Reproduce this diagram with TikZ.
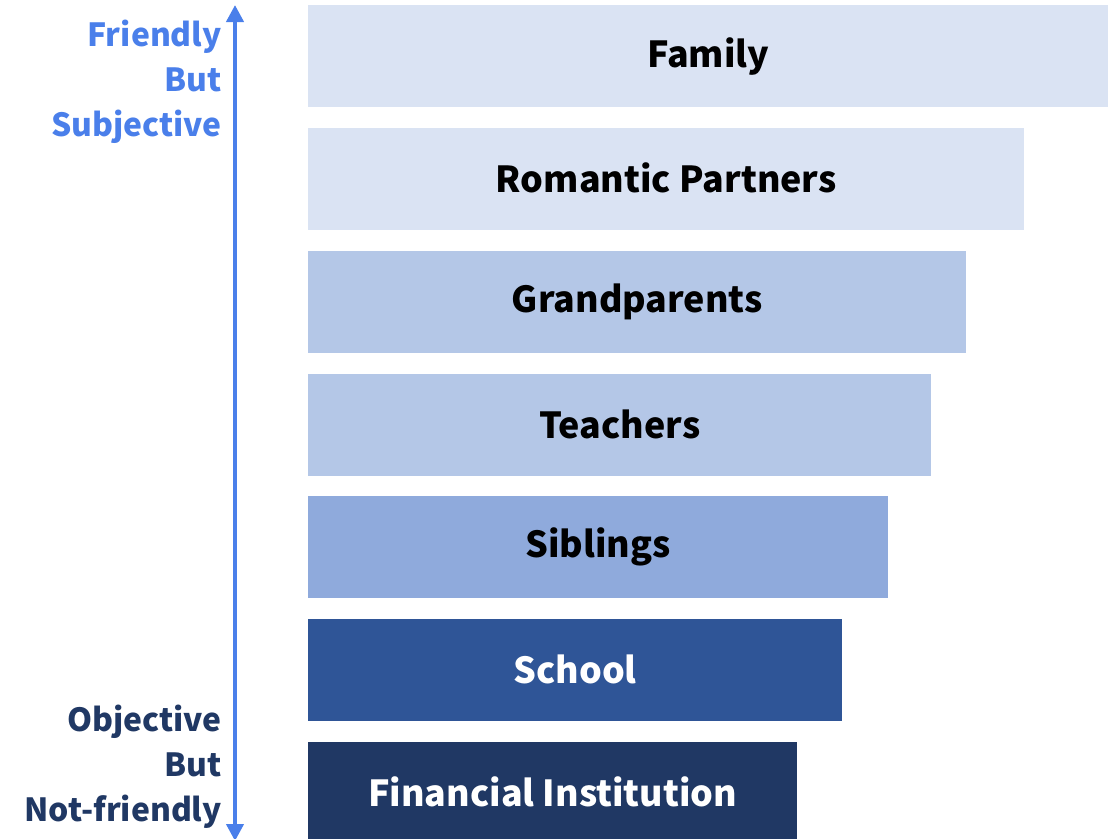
\documentclass[tikz,border=0pt]{standalone}
\usepackage{fontspec}
\setmainfont{Noto Sans CJK KR}
\usetikzlibrary{arrows.meta}
\definecolor{cA}{HTML}{DAE3F3}
\definecolor{cB}{HTML}{B4C7E7}
\definecolor{cC}{HTML}{8FAADC}
\definecolor{cD}{HTML}{2F5597}
\definecolor{cE}{HTML}{203864}
\definecolor{arrowblue}{HTML}{4A7FEA}
\newcommand{\up}[1]{\raisebox{3bp}{#1}}
\tikzset{
  bar/.style={anchor=north west, inner sep=0pt, minimum height=102bp, font=\fontsize{36}{40}\selectfont\bfseries, draw=none},
  side/.style={anchor=east, align=right, inner sep=0pt, font=\fontsize{32}{45}\selectfont\bfseries},
}
\begin{document}
\begin{tikzpicture}[x=1bp,y=-1bp]
\useasboundingbox (0,0) rectangle (1110,839);
\node[bar, fill=cA, minimum width=800bp] (family) at (308,5) {\up{Family}};
\node[bar, fill=cA, minimum width=716bp] (romantic) at (308,128) {\up{Romantic Partners}};
\node[bar, fill=cB, minimum width=658bp] (grand) at (308,251) {\up{Grandparents}};
\node[bar, fill=cB, minimum width=623bp] (teach) at (308,374) {\up{Teachers}};
\node[bar, fill=cC, minimum width=580bp] (sib) at (308,496) {\up{Siblings}};
\node[bar, fill=cD, minimum width=534bp, text=white] (school) at (308,619) {\up{School}};
\node[bar, fill=cE, minimum width=489bp, text=white] (fin) at (308,742) {\up{Financial Institution}};
\coordinate (atop) at (235,5);
\coordinate (abot) at (235,841);
\draw[arrowblue, line width=4bp, {Triangle[width=17bp,length=17bp]}-{Triangle[width=17bp,length=17bp]}] (abot) -- (atop);
\node[side, text=arrowblue] (top) at (222,82) {Friendly\\But\\Subjective};
\node[side, text=cE] (bot) at (222,767) {Objective\\But\\Not-friendly};
\end{tikzpicture}
\end{document}
